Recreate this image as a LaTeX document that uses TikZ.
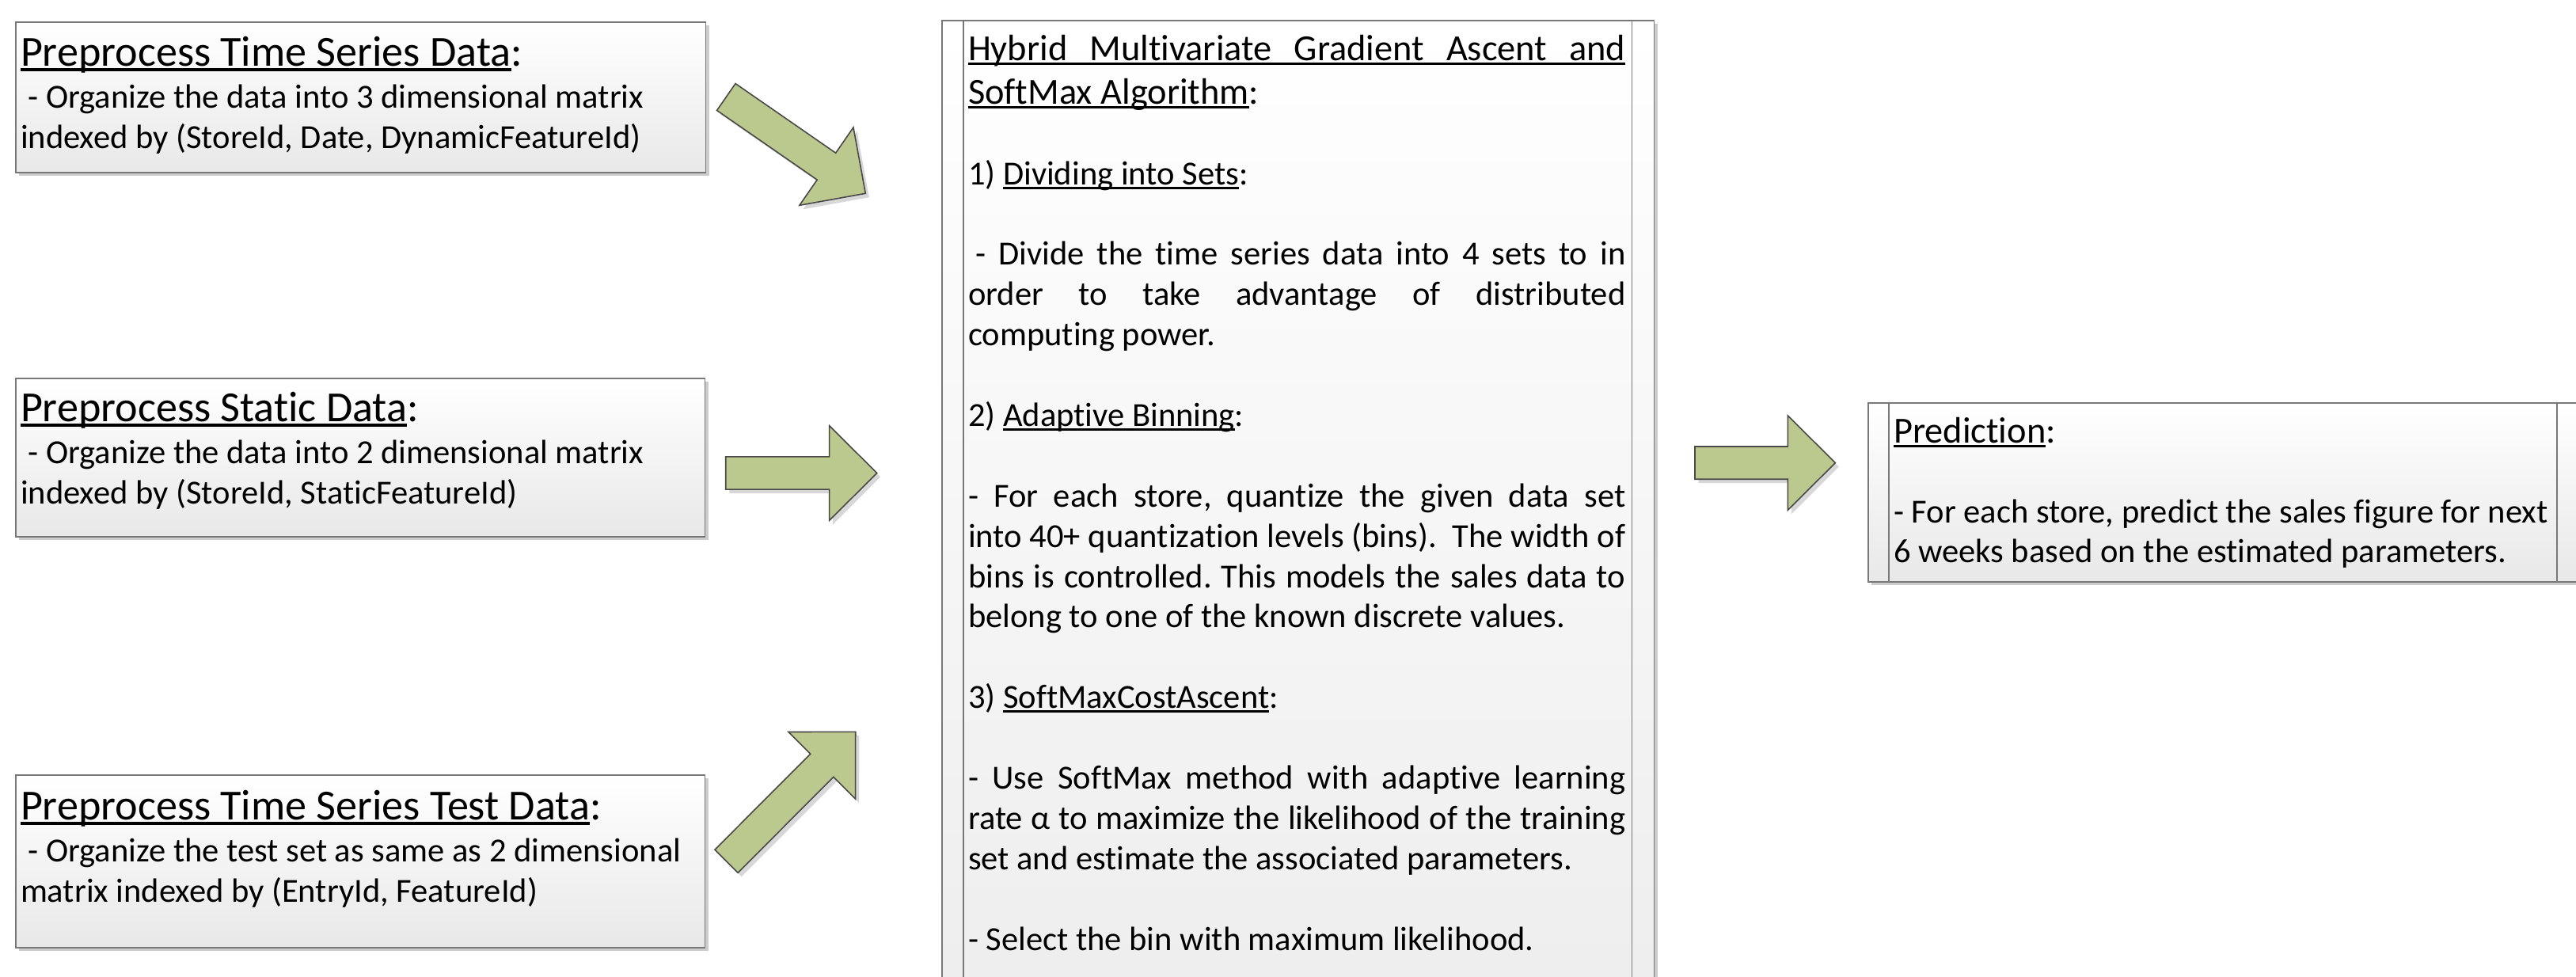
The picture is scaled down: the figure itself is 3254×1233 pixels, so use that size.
\documentclass[tikz,border=0pt]{standalone}
\usepackage{fontspec}
\setmainfont{Carlito}[Ligatures=NoCommon]
\usetikzlibrary{calc,shadows}
\frenchspacing

\definecolor{arrowgreen}{RGB}{187,200,142}
\definecolor{edgegray}{RGB}{120,120,120}
\definecolor{arrowedge}{RGB}{72,72,72}

\newcommand\bodyfont{\fontsize{12.1pt}{14.5pt}\selectfont}
\newcommand\bigtitlefont{\fontsize{15.4pt}{18pt}\selectfont}
\newcommand\midtitlefont{\fontsize{13.2pt}{16pt}\selectfont}
% underline at a fixed depth, crossing descenders
\newcommand\ulin[1]{\setbox0=\hbox{#1}\rlap{\rule[-0.135em]{\wd0}{0.072em}}\box0}
% justified line across the text column of the algorithm box
\newcommand\jline[1]{\makebox[8.3cm][s]{#1}}

\tikzset{
  procbox/.style={anchor=north west, draw=edgegray, line width=0.55pt,
    top color=white, bottom color=black!9, inner sep=0pt,
    drop shadow={shadow xshift=1.2pt, shadow yshift=-1.2pt, fill=black!40, opacity=0.5}},
  innerbar/.style={draw=edgegray, line width=0.5pt},
  txt/.style={anchor=base west, inner sep=0pt, outer sep=0pt},
  blockarrowstyle/.style={fill=arrowgreen, draw=arrowedge, line width=0.45pt,
    line join=miter,
    drop shadow={shadow xshift=1.3pt, shadow yshift=-1.4pt, fill=black!35, opacity=0.45}}
}

% block arrow: #1 name, #2 tail coordinate, #3 tip coordinate
\newcommand\blockarrow[3]{%
  \coordinate (#1hb) at ($(#3)!0.6cm!(#2)$);
  \draw[blockarrowstyle]
    ($(#2)!0.206cm!90:(#3)$) -- ($(#1hb)!0.206cm!-90:(#2)$) --
    ($(#1hb)!0.598cm!-90:(#2)$) -- (#3) --
    ($(#1hb)!0.598cm!90:(#2)$) -- ($(#1hb)!0.206cm!90:(#2)$) --
    ($(#2)!0.206cm!-90:(#3)$) -- cycle;}

\begin{document}
\begin{tikzpicture}[x=0.01cm, y=-0.01cm]
\useasboundingbox (0,0) rectangle (3254,1233);
\clip (0,0) rectangle (3254,1233);

% ---- input boxes on the left ----
\node[procbox, minimum width=8.71cm, minimum height=1.90cm] (ts) at (19,27) {};
\node[txt] (tsT) at (26,83) {\bigtitlefont\ulin{Preprocess Time Series Data}:};
\node[txt] (tsA) at (26,136) {\bodyfont\ - Organize the data into 3 dimensional matrix};
\node[txt] (tsB) at (26,187) {\bodyfont indexed by (StoreId, Date, DynamicFeatureId)};

\node[procbox, minimum width=8.70cm, minimum height=2.00cm] (st) at (19,477) {};
\node[txt] (stT) at (26,532) {\bigtitlefont\ulin{Preprocess Static Data}:};
\node[txt] (stA) at (26,585) {\bodyfont\ - Organize the data into 2 dimensional matrix};
\node[txt] (stB) at (26,636) {\bodyfont indexed by (StoreId, StaticFeatureId)};

\node[procbox, minimum width=8.70cm, minimum height=2.18cm] (te) at (19,978) {};
\node[txt] (teT) at (26,1035) {\bigtitlefont\ulin{Preprocess Time Series Test Data}:};
\node[txt] (teA) at (26,1088) {\bodyfont\ - Organize the test set as same as 2 dimensional};
\node[txt] (teB) at (26,1139) {\bodyfont matrix indexed by (EntryId, FeatureId)};

% ---- algorithm box ----
\node[procbox, minimum width=8.99cm, minimum height=12.6cm, bottom color=black!7] (algo) at (1189,25) {};
\draw[innerbar] ($(algo.north west)+(28,0)$) -- ($(algo.south west)+(28,0)$);
\draw[innerbar] ($(algo.north east)+(-29,0)$) -- ($(algo.south east)+(-29,0)$);

\node[txt] (alT1) at (1223,76) {\midtitlefont\ulin{\jline{Hybrid Multivariate Gradient Ascent and}}};
\node[txt] (alT2) at (1223,131) {\midtitlefont\ulin{SoftMax Algorithm}:};
\node[txt] (al1) at (1223,233) {\bodyfont 1) \ulin{Dividing into Sets}:};
\node[txt] (al1a) at (1223,334.8) {\bodyfont\jline{\kern0.226em- Divide the time series data into 4 sets to in}};
\node[txt] (al1b) at (1223,385.7) {\bodyfont\jline{order to take advantage of distributed}};
\node[txt] (al1c) at (1223,436.6) {\bodyfont computing power.};
\node[txt] (al2) at (1223,538.4) {\bodyfont 2) \ulin{Adaptive Binning}:};
\node[txt] (al2a) at (1223,640.2) {\bodyfont\jline{- For each store, quantize the given data set}};
\node[txt] (al2b) at (1223,691.1) {\bodyfont\jline{into 40+ quantization levels (bins).\ \ The width of}};
\node[txt] (al2c) at (1223,742) {\bodyfont\jline{bins is controlled. This models the sales data to}};
\node[txt] (al2d) at (1223,792.9) {\bodyfont belong to one of the known discrete values.};
\node[txt] (al3) at (1223,894.7) {\bodyfont 3) \ulin{SoftMaxCostAscent}:};
\node[txt] (al3a) at (1223,996.5) {\bodyfont\jline{- Use SoftMax method with adaptive learning}};
\node[txt] (al3b) at (1223,1047.4) {\bodyfont\jline{rate α to maximize the likelihood of the training}};
\node[txt] (al3c) at (1223,1098.3) {\bodyfont set and estimate the associated parameters.};
\node[txt] (al3d) at (1223,1200.1) {\bodyfont - Select the bin with maximum likelihood.};

% ---- prediction box ----
\node[procbox, minimum width=9.3cm, minimum height=2.26cm] (pred) at (2359,508) {};
\draw[innerbar] ($(pred.north west)+(27,0)$) -- ($(pred.south west)+(27,0)$);
\draw[innerbar] ($(pred.north west)+(871,0)$) -- ($(pred.south west)+(871,0)$);
\node[txt] (prT) at (2392,559) {\midtitlefont\ulin{Prediction}:};
\node[txt] (prA) at (2392,660) {\bodyfont - For each store, predict the sales figure for next};
\node[txt] (prB) at (2392,710.5) {\bodyfont 6 weeks based on the estimated parameters.};

% ---- block arrows ----
\coordinate (a1s) at (917.3,122.5);  \coordinate (a1e) at (1093.3,244.3);
\coordinate (a2s) at (916.7,597.5);  \coordinate (a2e) at (1107.7,597.5);
\coordinate (a3s) at (917.5,1087.8); \coordinate (a3e) at (1080.7,924.3);
\coordinate (a4s) at (2141,584.6);   \coordinate (a4e) at (2318.3,584.6);
\blockarrow{a1}{a1s}{a1e}
\blockarrow{a2}{a2s}{a2e}
\blockarrow{a3}{a3s}{a3e}
\blockarrow{a4}{a4s}{a4e}
\end{tikzpicture}
\end{document}
